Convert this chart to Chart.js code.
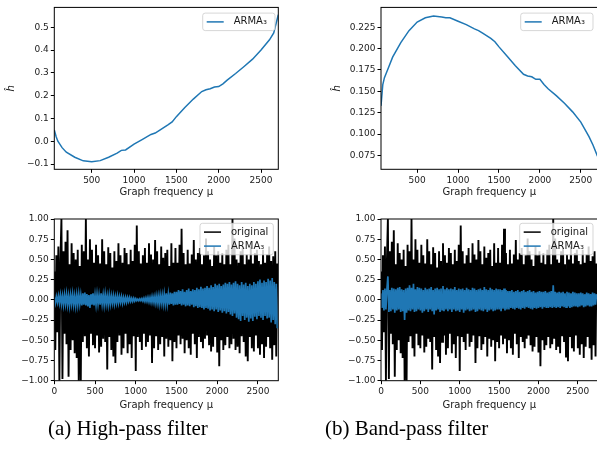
<!DOCTYPE html>
<html>
<head>
<meta charset="utf-8">
<script src="https://cdn.jsdelivr.net/npm/chart.js@4.4.1/dist/chart.umd.min.js"></script>
<style>
body { margin:0; width:597px; height:463px; overflow:hidden; background:#fff; position:relative; }
canvas { position:absolute; }
.cap { position:absolute; font-family:"Liberation Serif", serif; font-size:21px; color:#000; white-space:nowrap; line-height:24px; }
</style>
</head>
<body>
<canvas id="hpResp" width="300" height="205" style="left:0;top:0"></canvas>
<canvas id="bpResp" width="310" height="205" style="left:300px;top:0"></canvas>
<canvas id="hpSig" width="300" height="215" style="left:0;top:205px"></canvas>
<canvas id="bpSig" width="310" height="215" style="left:300px;top:205px"></canvas>
<div class="cap" style="left:48px;top:416px">(a) High-pass filter</div>
<div class="cap" style="left:325px;top:416px">(b) Band-pass filter</div>
<script>
// frequency response of the two ARMA3 filters
const freq = [58, 80, 100, 150, 200, 300, 400, 500, 600, 700, 800, 850, 900, 1000, 1100, 1200, 1250, 1300, 1400, 1450,
  1500, 1600, 1700, 1800, 1850, 1900, 1950, 2000, 2050, 2100, 2200, 2300, 2400, 2500, 2600, 2650, 2704];
const highPass = [0.05, 0.02, 0.0, -0.028, -0.048, -0.07, -0.086, -0.09, -0.085, -0.07, -0.052, -0.04, -0.038, -0.013, 0.008, 0.03, 0.036, 0.048, 0.072, 0.085,
  0.108, 0.148, 0.185, 0.218, 0.226, 0.23, 0.238, 0.24, 0.252, 0.268, 0.297, 0.328, 0.36, 0.4, 0.445, 0.475, 0.555];
const bandPass = [0.133, 0.158, 0.166, 0.178, 0.19, 0.207, 0.221, 0.231, 0.236, 0.238, 0.237, 0.236, 0.236, 0.232, 0.228, 0.223, 0.221, 0.218, 0.212, 0.208,
  0.202, 0.191, 0.18, 0.17, 0.168, 0.167, 0.164, 0.164, 0.158, 0.153, 0.145, 0.136, 0.126, 0.114, 0.097, 0.087, 0.074];

// graph signals (one value every 12.5 nodes)
const sampleStep = 12.5;
const original = [
  0.35, -0.62, 0.55, -0.4, 0.66, -1.0, 0.48, 1.0, -0.98, 0.6,
  -0.42, 0.72, -0.55, 0.86, -0.95, 0.44, -0.62, 0.7, -0.5, 0.58,
  -0.66, 0.5, -0.72, 0.62, -1.0, 0.42, -1.0, 0.68, -0.52, 0.6,
  -0.45, 1.0, -0.6, 0.5, -0.7, 0.75, -0.42, 0.62, -0.56, 0.46,
  -0.6, 0.68, -0.44, 0.55, -0.65, 0.45, -0.58, 0.75, -0.48, 0.6,
  -0.52, 0.44, -0.86, 0.65, -0.46, 0.58, -0.62, 0.4, -0.7, 0.6,
  -0.78, 0.48, -0.52, 0.7, -0.44, 0.55, -0.68, 0.46, -0.6, 0.64,
  -0.42, 0.58, -0.66, 0.44, -0.55, 0.62, -0.72, 0.48, -0.45, 0.68,
  -0.88, 0.92, -0.46, 0.6, -0.52, 0.45, -0.62, 0.55, -0.42, 0.64,
  -0.58, 0.46, -0.52, 0.7, -0.44, 0.56, -0.78, 0.5, -0.6, 0.74,
  -0.45, 0.6, -0.62, 0.44, -0.55, 0.66, -0.46, 0.52, -0.7, 0.58,
  -0.48, 0.62, -0.58, 0.42, -0.5, 0.7, -0.76, 0.46, -0.52, 0.64,
  -0.6, 0.46, -0.44, 0.68, -0.55, 0.88, -0.48, 0.58, -0.66, 0.44,
  -0.5, 0.62, -0.6, 0.45, -0.68, 0.56, -0.42, 0.74, -0.55, 0.5,
  -0.72, 0.58, -0.46, 0.64, -0.52, 0.44, -0.6, 0.55, -0.48, 0.76,
  -0.44, 0.6, -0.56, 0.5, -0.64, 0.42, -0.58, 0.66, -0.46, 0.55,
  -0.65, 0.6, -0.82, 0.46, -0.5, 0.58, -0.62, 0.44, -0.56, 0.62,
  -0.46, 0.68, -0.6, 0.44, -0.55, 1.0, -0.48, 0.76, -0.62, 0.5,
  -0.58, 0.46, -0.66, 0.6, -0.45, 0.64, -0.52, 0.44, -0.7, 0.56,
  -0.76, 0.5, -0.46, 0.66, -0.6, 0.45, -0.64, 0.58, -0.44, 0.62,
  -0.6, 0.48, -0.68, 0.44, -0.55, 0.62, -0.72, 0.46, -0.58, 0.56,
  -0.46, 0.66, -0.6, 0.48, -0.74, 0.54, -0.56, 0.6, -0.7, 0.45
];
const highPassOut = [
  0.03, -0.04, 0.04, -0.03, 0.05, -0.04, 0.06, -0.05, 0.05, -0.06,
  0.06, -0.05, 0.07, -0.06, 0.05, -0.07, 0.06, -0.05, 0.07, -0.06,
  0.05, -0.07, 0.06, -0.06, 0.07, -0.05, 0.06, -0.07, 0.08, -0.06,
  0.09, -0.07, 0.07, -0.08, 0.06, -0.1, 0.07, -0.06, 0.08, -0.07,
  0.06, -0.06, 0.07, -0.05, 0.06, -0.06, 0.08, -0.05, 0.06, -0.06,
  0.07, -0.05, 0.05, -0.06, 0.06, -0.05, 0.05, -0.04, 0.05, -0.05,
  0.04, -0.04, 0.05, -0.04, 0.04, -0.03, 0.04, -0.04, 0.03, -0.03,
  0.03, -0.03, 0.03, -0.02, 0.03, -0.02, 0.02, -0.02, 0.02, -0.015,
  0.015, -0.01, 0.01, -0.012, 0.012, -0.01, 0.015, -0.015, 0.02, -0.02,
  0.025, -0.02, 0.03, -0.025, 0.03, -0.03, 0.04, -0.03, 0.04, -0.04,
  0.05, -0.04, 0.05, -0.05, 0.06, -0.04, 0.06, -0.05, 0.07, -0.05,
  0.08, -0.05, 0.07, -0.06, 0.09, -0.05, 0.08, -0.07, 0.1, -0.06,
  0.1, -0.06, 0.12, -0.05, 0.11, -0.07, 0.13, -0.06, 0.1, -0.08,
  0.12, -0.07, 0.14, -0.08, 0.11, -0.06, 0.13, -0.09, 0.12, -0.08,
  0.15, -0.1, 0.13, -0.09, 0.16, -0.1, 0.14, -0.12, 0.15, -0.1,
  0.17, -0.11, 0.15, -0.13, 0.18, -0.12, 0.16, -0.14, 0.2, -0.12,
  0.18, -0.15, 0.2, -0.13, 0.17, -0.16, 0.19, -0.14, 0.21, -0.17,
  0.2, -0.15, 0.22, -0.18, 0.19, -0.2, 0.21, -0.17, 0.23, -0.22,
  0.2, -0.24, 0.18, -0.26, 0.22, -0.2, 0.19, -0.25, 0.21, -0.22,
  0.17, -0.27, 0.2, -0.23, 0.18, -0.26, 0.22, -0.21, 0.2, -0.24,
  0.23, -0.2, 0.25, -0.22, 0.21, -0.25, 0.24, -0.2, 0.22, -0.23,
  0.26, -0.22, 0.24, -0.28, 0.27, -0.25, 0.22, -0.3, 0.2, -0.35
];
const bandPassOut = [
  0.08, -0.1, 0.12, -0.13, 0.14, -0.12, 0.13, 0.29, -0.15, 0.12,
  -0.14, 0.15, -0.12, 0.14, -0.16, 0.13, -0.13, 0.15, -0.12, 0.16,
  -0.15, 0.13, -0.14, 0.12, -0.25, 0.14, -0.16, 0.15, -0.13, 0.18,
  -0.14, 0.15, -0.12, 0.2, -0.15, 0.13, -0.14, 0.16, -0.12, 0.15,
  -0.13, 0.14, -0.16, 0.12, -0.14, 0.15, -0.12, 0.13, -0.15, 0.14,
  -0.12, 0.16, -0.14, 0.12, -0.18, 0.14, -0.13, 0.15, -0.12, 0.13,
  -0.15, 0.14, -0.12, 0.17, -0.14, 0.13, -0.12, 0.15, -0.14, 0.13,
  -0.12, 0.14, -0.15, 0.13, -0.12, 0.16, -0.14, 0.12, -0.13, 0.14,
  -0.15, 0.13, -0.12, 0.14, -0.16, 0.12, -0.13, 0.15, -0.12, 0.13,
  -0.14, 0.12, -0.13, 0.15, -0.12, 0.14, -0.15, 0.12, -0.14, 0.13,
  -0.12, 0.14, -0.13, 0.12, -0.14, 0.16, -0.12, 0.13, -0.15, 0.12,
  -0.13, 0.15, -0.12, 0.13, -0.14, 0.12, -0.13, 0.14, -0.12, 0.13,
  -0.12, 0.13, -0.14, 0.12, -0.11, 0.14, -0.13, 0.12, -0.12, 0.11,
  -0.12, 0.11, -0.1, 0.12, -0.11, 0.1, -0.12, 0.11, -0.1, 0.12,
  -0.11, 0.1, -0.12, 0.11, -0.1, 0.12, -0.11, 0.1, -0.09, 0.11,
  -0.1, 0.12, -0.11, 0.1, -0.12, 0.11, -0.1, 0.09, -0.11, 0.1,
  -0.1, 0.11, -0.09, 0.1, -0.11, 0.1, -0.09, 0.11, -0.1, 0.09,
  -0.1, 0.1, -0.09, 0.11, -0.1, 0.18, -0.09, 0.1, -0.1, 0.09,
  -0.09, 0.1, -0.1, 0.09, -0.08, 0.1, -0.09, 0.08, -0.09, 0.1,
  -0.08, 0.09, -0.1, 0.08, -0.09, 0.1, -0.08, 0.09, -0.08, 0.08,
  -0.09, 0.08, -0.08, 0.09, -0.07, 0.08, -0.09, 0.07, -0.08, 0.09,
  -0.07, 0.08, -0.08, 0.07, -0.08, 0.09, -0.07, 0.08, -0.06, 0.07
];

const freqTicks = [500, 1000, 1500, 2000, 2500];
const nodeTicks = [0, 500, 1000, 1500, 2000, 2500];
const hpTicks = [-0.1, 0.0, 0.1, 0.2, 0.3, 0.4, 0.5];
const bpTicks = [0.075, 0.1, 0.125, 0.15, 0.175, 0.2, 0.225];
const sigTicks = [-1, -0.75, -0.5, -0.25, 0, 0.25, 0.5, 0.75, 1];

const BLUE = '#1f77b4';
const FONT = 'DejaVu Sans';
const TXT = '#1a1a1a';

function fmt(v, d) {
  return v.toFixed(d).replace('-', '\u2212');
}
function pts(xs, ys) {
  return ys.map((y, i) => ({ x: xs[i], y: y }));
}
const sigX = original.map((_, i) => i * sampleStep);

// axes box like matplotlib spines + legend in upper right
const boxPlugin = {
  id: 'boxLegend',
  afterDraw(chart, args, opts) {
    const { ctx, chartArea: a } = chart;
    ctx.save();
    ctx.strokeStyle = '#000';
    ctx.lineWidth = 1;
    ctx.strokeRect(a.left, a.top, a.right - a.left, a.bottom - a.top);

    const ds = chart.data.datasets;
    const w = opts.width, h = 3.5 + ds.length * 14;
    const x = a.right - opts.right - w, y = a.top + opts.top;
    ctx.beginPath();
    ctx.roundRect(x, y, w, h, 2.5);
    ctx.fillStyle = 'rgba(255,255,255,0.8)';
    ctx.fill();
    ctx.strokeStyle = 'rgba(204,204,204,0.8)';
    ctx.lineWidth = 1;
    ctx.stroke();
    ctx.font = '10px "' + FONT + '"';
    ctx.textBaseline = 'middle';
    ds.forEach((d, i) => {
      const cy = y + 8.8 + i * 14;
      ctx.strokeStyle = d.borderColor;
      ctx.lineWidth = 1.5;
      ctx.beginPath();
      ctx.moveTo(x + 4, cy);
      ctx.lineTo(x + 21, cy);
      ctx.stroke();
      ctx.fillStyle = TXT;
      ctx.fillText(d.label, x + 31, cy);
    });
    ctx.restore();
  }
};

function makeChart(id, cfg) {
  const ctx = document.getElementById(id).getContext('2d');
  return new Chart(ctx, {
    type: 'line',
    data: { datasets: cfg.datasets },
    options: {
      responsive: false,
      animation: false,
      events: [],
      layout: { padding: cfg.padding },
      elements: { point: { radius: 0 }, line: { tension: 0 } },
      plugins: {
        legend: { display: false },
        tooltip: { enabled: false },
        boxLegend: cfg.legend
      },
      scales: {
        x: {
          type: 'linear',
          min: cfg.xMin, max: cfg.xMax,
          afterBuildTicks: s => { s.ticks = cfg.xTicks.map(v => ({ value: v })); },
          afterFit: s => { s.height = cfg.xHeight; },
          grid: { drawOnChartArea: false, drawTicks: true, tickLength: 3.5, color: '#000' },
          border: { display: false },
          ticks: { autoSkip: false, maxRotation: 0, padding: 2, color: TXT, font: { family: FONT, size: 9 }, callback: v => String(v) },
          title: { display: true, text: 'Graph frequency \u03bc', color: TXT, font: { family: FONT, size: 10, lineHeight: 1.2 }, padding: { top: 0, bottom: cfg.xTitlePad } }
        },
        y: {
          min: cfg.yMin, max: cfg.yMax,
          afterBuildTicks: s => { s.ticks = cfg.yTicks.map(v => ({ value: v })); },
          afterFit: s => { s.width = cfg.yWidth; },
          grid: { drawOnChartArea: false, drawTicks: true, tickLength: 3.5, color: '#000' },
          border: { display: false },
          ticks: { autoSkip: false, padding: 2, color: TXT, font: { family: FONT, size: 9 }, callback: v => fmt(v, cfg.yDec) },
          title: { display: !!cfg.yTitle, text: cfg.yTitle || '', color: TXT, font: { family: FONT, size: 10, style: 'italic', lineHeight: 1.2 }, padding: { top: cfg.yTitlePad || 0, bottom: 0 } }
        }
      }
    },
    plugins: [boxPlugin]
  });
}

makeChart('hpResp', {
  datasets: [{ label: 'ARMA\u2083', data: pts(freq, highPass), borderColor: BLUE, borderWidth: 1.5, clip: 0 }],
  padding: { left: 0, top: 6, right: 21.7, bottom: 0 },
  xMin: 58, xMax: 2704, xTicks: freqTicks, xHeight: 35.7, xTitlePad: 6.3,
  yMin: -0.123, yMax: 0.587, yTicks: hpTicks, yDec: 1, yWidth: 54.3, yTitle: '\u0125', yTitlePad: 5,
  legend: { width: 72.3, right: 3.3, top: 5.7 }
});

makeChart('bpResp', {
  datasets: [{ label: 'ARMA\u2083', data: pts(freq, bandPass), borderColor: BLUE, borderWidth: 1.5, clip: 0 }],
  padding: { left: 0, top: 6, right: 12.5, bottom: 0 },
  xMin: 58, xMax: 2704, xTicks: freqTicks, xHeight: 35.7, xTitlePad: 6.3,
  yMin: 0.0588, yMax: 0.2482, yTicks: bpTicks, yDec: 3, yWidth: 81, yTitle: '\u0125', yTitlePad: 31,
  legend: { width: 72.3, right: 4.5, top: 5.7 }
});

makeChart('hpSig', {
  datasets: [
    { label: 'original', data: pts(sigX, original), borderColor: '#000', borderWidth: 1.9, order: 2, clip: 0 },
    { label: 'ARMA\u2083', data: pts(sigX, highPassOut), borderColor: BLUE, borderWidth: 1.7, order: 1, clip: 0 }
  ],
  padding: { left: 0, top: 14, right: 21.7, bottom: 0 },
  xMin: 0, xMax: 2750, xTicks: nodeTicks, xHeight: 39.3, xTitlePad: 8.6,
  yMin: -1, yMax: 1, yTicks: sigTicks, yDec: 2, yWidth: 54.3,
  legend: { width: 73.3, right: 5, top: 4.3 }
});

makeChart('bpSig', {
  datasets: [
    { label: 'original', data: pts(sigX, original), borderColor: '#000', borderWidth: 1.9, order: 2, clip: 0 },
    { label: 'ARMA\u2083', data: pts(sigX, bandPassOut), borderColor: BLUE, borderWidth: 1.7, order: 1, clip: 0 }
  ],
  padding: { left: 0, top: 14, right: 12.5, bottom: 0 },
  xMin: 0, xMax: 2750, xTicks: nodeTicks, xHeight: 39.3, xTitlePad: 8.6,
  yMin: -1, yMax: 1, yTicks: sigTicks, yDec: 2, yWidth: 81,
  legend: { width: 73.3, right: 4.5, top: 4.3 }
});
</script>
</body>
</html>
